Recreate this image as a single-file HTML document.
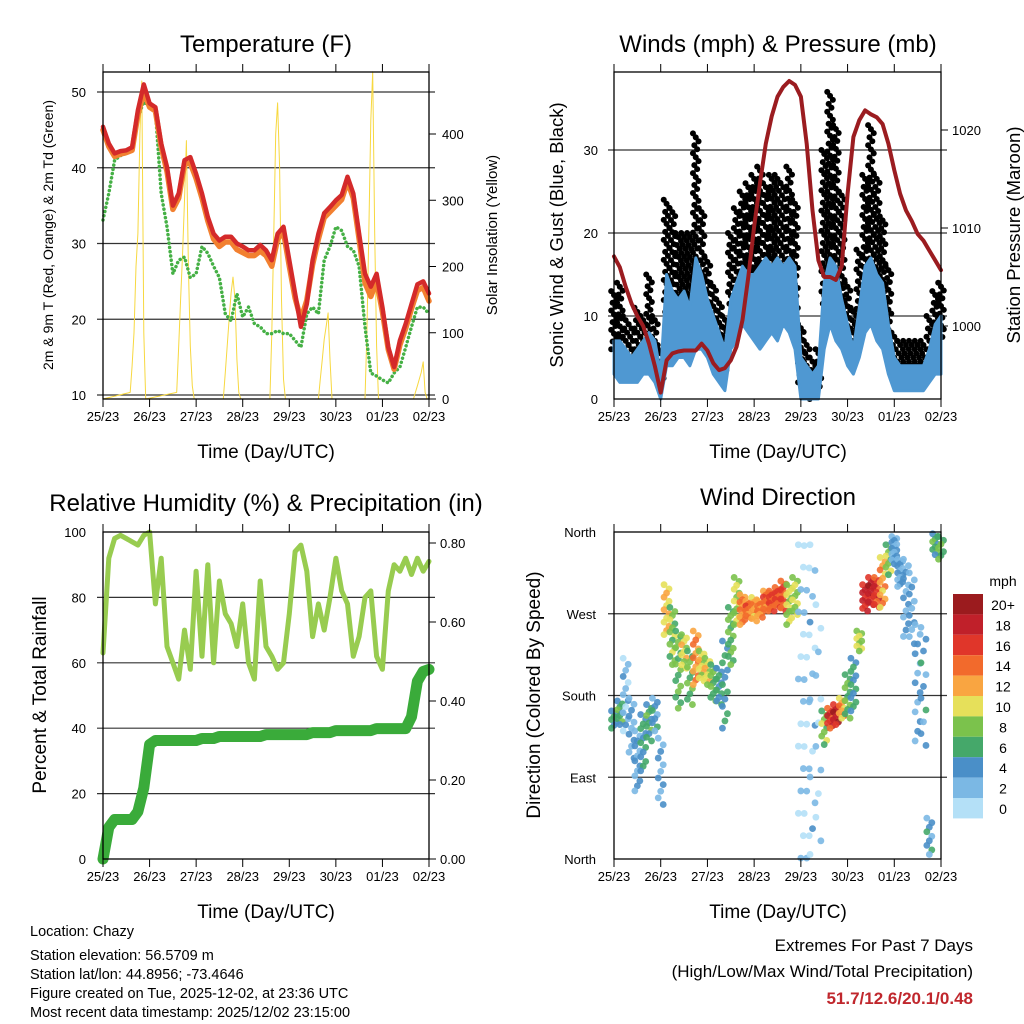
<!DOCTYPE html>
<html><head><meta charset="utf-8">
<style>
html,body{margin:0;padding:0;background:#fff;}
svg{display:block;font-family:"Liberation Sans",Arial,sans-serif;}
</style></head>
<body>
<svg id="chart" width="1024" height="1024" viewBox="0 0 1024 1024" xmlns="http://www.w3.org/2000/svg">
<rect width="1024" height="1024" fill="#fff"/>
<g id="g1"></g>
<g id="g2"></g>
<g id="g3"></g>
<g id="g4"></g>
<g font-size="24" text-anchor="middle" fill="#000">
<text x="266" y="52">Temperature (F)</text>
<text x="778" y="52">Winds (mph) &amp; Pressure (mb)</text>
<text x="266" y="511">Relative Humidity (%) &amp; Precipitation (in)</text>
<text x="778" y="505">Wind Direction</text>
</g>
<g font-size="19" text-anchor="middle">
<text x="266" y="458">Time (Day/UTC)</text>
<text x="778" y="458">Time (Day/UTC)</text>
<text x="266" y="918">Time (Day/UTC)</text>
<text x="778" y="918">Time (Day/UTC)</text>
</g>
<g text-anchor="middle">
<text font-size="14" transform="translate(53,235) rotate(-90)">2m &amp; 9m T (Red, Orange) &amp; 2m Td (Green)</text>
<text font-size="15" transform="translate(497,235) rotate(-90)">Solar Insolation (Yellow)</text>
<text font-size="18.5" transform="translate(563,235) rotate(-90)">Sonic Wind &amp; Gust (Blue, Black)</text>
<text font-size="18.5" transform="translate(1020,235) rotate(-90)">Station Pressure (Maroon)</text>
<text font-size="19" transform="translate(46,695) rotate(-90)">Percent &amp; Total Rainfall</text>
<text font-size="19" transform="translate(540,695) rotate(-90)">Direction (Colored By Speed)</text>
</g>
<g font-size="14.5">
<text x="30" y="936">Location: Chazy</text>
<text x="30" y="960">Station elevation: 56.5709 m</text>
<text x="30" y="979">Station lat/lon: 44.8956; -73.4646</text>
<text x="30" y="998">Figure created on Tue, 2025-12-02, at 23:36 UTC</text>
<text x="30" y="1017">Most recent data timestamp: 2025/12/02 23:15:00</text>
</g>
<g text-anchor="end">
<text x="973" y="951" font-size="17">Extremes For Past 7 Days</text>
<text x="973" y="977" font-size="17">(High/Low/Max Wind/Total Precipitation)</text>
<text x="973" y="1004" font-size="17" font-weight="bold" fill="#c0272d">51.7/12.6/20.1/0.48</text>
</g>
</svg>
<script>
// ---------- DATA (3-hourly, hour = index*3) ----------
const dayLabels = ["25/23","26/23","27/23","28/23","29/23","30/23","01/23","02/23"];
const temp2m = [45.4,43.2,41.9,42.2,42.3,42.7,47.6,51,48.5,48,43.2,40.1,35,36.6,41,41.4,39.2,36.6,33.5,31.3,30.4,30.9,30.9,30,29.6,29.1,29.1,29.8,29.1,27.8,31.3,32.2,27.8,23.4,19,22,27.8,31.3,34,34.8,35.7,36.4,38.8,36.6,31.3,26,24.3,26,21.6,16.3,13.7,17.2,19.4,22,24.6,25,23.4];
const temp9m = [45,42.8,41.5,41.8,42,42.3,47,50,48,47.5,42.8,39.5,34.5,36,40.5,40.6,38.6,36,33,30.6,29.6,30.2,30.2,29.2,28.8,28.4,28.4,29,28.4,27,30.6,31.5,27,22.8,20,22.5,27.2,30.6,33.4,34.2,35,35.8,38.2,36,30.6,24.8,23,25,21,16,13.4,16.6,18.8,21.4,23.8,24.2,22.4];
const dewpt = [33.1,36.6,41,41.6,41.9,42.3,46.7,48.7,48,47.6,36.6,32.2,26,27.8,28.2,25.5,26,29.6,28.7,27,25.5,20.7,19.8,23.4,20.3,21.6,19.4,19,18.1,18.1,18.5,18.1,18.1,17.2,16.3,20.7,21.6,20.7,27.8,29.6,32.2,31.7,29.6,29.1,27,19,12.9,12.5,12,11.6,12.9,13.7,16.3,19,21.6,21.6,20.7];
const solarHrs = [0,14,15,16,17,18,19,20,21,22,38,39,40,41,42,43,44,45,46,47,62,63,64,65,66,67,68,69,70,71,86,87,88,89,90,91,92,93,94,111,112,113,114,115,116,117,118,135,136,137,138,139,140,141,142,160,161,162,163,164,165,166,167,168];
const solarVals = [0,10,50,100,200,250,400,480,100,0,10,80,150,220,300,390,200,80,20,0,0,40,80,120,160,184,150,60,10,0,0,100,250,400,447,350,150,30,0,0,30,60,90,110,130,60,0,0,100,250,420,494,250,80,0,0,10,20,30,40,56,10,0,0];
const windLo = [3,2,2,2,2,3,3,2,0,4,4,5,5,4,6,6,5,3,2,1,6,7,9,8,7,6,7,8,7,9,8,6,0,0,0,0,6,9,7,6,4,3,5,8,9,7,6,3,1,1,1,1,1,1,2,3,3];
const windHi = [7,7,6,5,6,7,8,7,3,15,13,12,13,11,17,15,12,10,8,6,12,14,16,15,15,16,17,16,17,16,17,16,5,4,3,4,14,17,16,12,9,6,11,16,17,15,14,9,5,4,4,4,4,4,6,9,10];
const gustLo = [6,4,4,4,5,5,6,5,2,10,9,8,9,7,10,9,8,6,5,3,11,12,12,13,12,13,14,15,13,12,14,10,2,1,0,1,11,14,12,9,6,5,8,13,15,13,11,6,4,3,3,3,3,3,4,5,7];
const gustHi = [13,14,10,9,11,10,15,10,6,24,23,20,20,20,32,23,17,14,12,10,20,23,25,26,27,28,26,27,27,26,28,24,9,7,5,6,30,37,33,25,14,11,18,27,33,27,22,16,8,7,7,7,7,7,10,13,14];
const pressure = [1007.1,1006,1004,1002.3,1001,1000,998.2,995.9,993.2,996.5,997.2,997.4,997.5,997.5,997.5,998.2,997.5,996.2,995.5,995.7,996.5,997.9,1000.6,1005,1010.1,1014.6,1018.6,1021.4,1023.4,1024.4,1025,1024.6,1023.4,1018.6,1011.8,1006.7,1005,1005,1004.7,1006.1,1013.5,1019.3,1021,1022,1021.6,1021.3,1020.6,1018.6,1015.9,1013.5,1011.8,1010.7,1009.4,1008.7,1007.7,1006.7,1005.7];
const relHum = [63,92,98,99,98,97,96,99,100,78,92,65,60,55,70,58,88,62,90,60,85,75,72,65,78,60,55,85,65,62,58,60,75,94,96,88,68,78,70,80,92,82,78,62,68,80,82,62,58,82,90,88,92,87,92,88,91];
const precip = [0,0.08,0.1,0.1,0.1,0.1,0.12,0.18,0.29,0.3,0.3,0.3,0.3,0.3,0.3,0.3,0.3,0.305,0.305,0.305,0.31,0.31,0.31,0.31,0.31,0.31,0.31,0.31,0.315,0.315,0.315,0.315,0.315,0.315,0.315,0.315,0.32,0.32,0.32,0.32,0.325,0.325,0.325,0.325,0.325,0.325,0.325,0.33,0.33,0.33,0.33,0.33,0.33,0.36,0.45,0.475,0.48];
const dirLo = [144,148,141,111,75,97,130,141,60,247,214,166,210,170,192,196,192,174,170,144,214,258,258,266,262,266,273,273,277,273,258,269,1,1,5,20,126,144,148,155,155,163,229,273,280,277,277,313,325,300,245,237,130,125,5,335,330];
const dirHi = [163,174,221,177,141,159,170,177,133,302,277,251,247,229,251,229,221,214,210,240,277,310,291,284,288,284,295,295,299,306,302,310,346,345,346,280,163,166,170,177,203,221,251,302,310,310,332,346,355,330,330,315,258,255,45,358,355];
const dirSpd = [5,6,2,3,3,5,6,4,3,11,8,7,10,7,13,10,10,7,5,5,7,9,13,14,12,13,14,15,15,15,9,9,1,1,2,1,8,16,18,12,7,5,9,17,18,16,12,8,3,3,3,3,3,4,4,6,7];
const dirCount = [6,8,12,10,12,12,10,8,10,12,14,14,10,10,12,10,8,10,10,12,14,12,12,10,10,10,10,10,10,10,12,10,14,14,12,10,8,8,8,8,10,12,8,10,10,10,12,8,14,12,12,10,12,10,8,8,6];
const speedBins = ["0","2","4","6","8","10","12","14","16","18","20+"];
const speedColors = ["#b4e0f7","#7bb8e4","#4a8fc8","#45a86a","#7bc24c","#e6e05a","#f9a541","#f26a2c","#e0362a","#c0202a","#9b1b1e"];
const dirLabels = ["North","East","South","West","North"];

const NS="http://www.w3.org/2000/svg";
function mk(parent, tag, attrs){const e=document.createElementNS(NS,tag);for(const k in attrs)e.setAttribute(k,attrs[k]);parent.appendChild(e);return e;}
const hrs = temp2m.map((_,i)=>i*3);

const xL = h => 103 + h/168*326;
const xR = h => 614 + h/168*327;
const yT = v => 92 + (50-v)*7.575;
const yS = s => 399 - s*0.6625;
const yW = v => 399 - v*8.3;
const yP = p => 228 + (1010-p)*9.8;
const yRH = r => 859 - r*3.27;
const yPr = p => 859 - p*395;
const yD = d => 859 - d/360*327;

function frame(g, x0,x1,y0,y1, xs, name){
  dayLabels.forEach((lab,i)=>{
    const x = xs(i*24);
    const t1=mk(g,'line',{x1:x,x2:x,y1:y1,y2:y1+8,stroke:'#000','stroke-width':1});
    
    
    const t2=mk(g,'line',{x1:x,x2:x,y1:y0,y2:y0-8,stroke:'#000','stroke-width':1});
    
    
    const tx=mk(g,'text',{x:x,y:y1+22,'font-size':13,'text-anchor':'middle'});
    tx.textContent=lab;
    
    
  });
}
function hgrid(g,x0,x1,y,name){
  const l=mk(g,'line',{x1:x0-6,x2:x1+6,y1:y,y2:y,stroke:'#333','stroke-width':1.2});
  
  
}
function box(g,x0,x1,y0,y1,name){
  const r=mk(g,'rect',{x:x0,y:y0,width:x1-x0,height:y1-y0,fill:'none',stroke:'#000','stroke-width':1.3});
  
  
}
function label(g,x,y,txt,anchor,size,name){
  const t=mk(g,'text',{x:x,y:y,'font-size':size||13,'text-anchor':anchor});
  t.textContent=txt;
  
  
}
function poly(g,xs,ys,xv,yv,attrs,name){
  const pts = xv.map((h,i)=>xs(h).toFixed(1)+','+ys(yv[i]).toFixed(1)).join(' ');
  const p=mk(g,'polyline',Object.assign({points:pts,fill:'none','stroke-linejoin':'round','stroke-linecap':'round'},attrs));
  
  
  return p;
}

// ---------- Panel 1 ----------
const g1=document.getElementById('g1');
[50,40,30,20,10].forEach(v=>{hgrid(g1,103,429,yT(v),'temp-gridline');label(g1,86,yT(v)+5,String(v),'end',13,'temp-y-tick-label');});
[0,100,200,300,400].forEach(v=>{mk(g1,'line',{x1:429,x2:436,y1:yS(v),y2:yS(v),stroke:'#000'});label(g1,442,yS(v)+5,String(v),'start',13,'solar-y-tick-label');});
poly(g1,xL,yS,solarHrs,solarVals,{stroke:'#f7d840','stroke-width':1},'solar-line');
poly(g1,xL,yT,hrs,dewpt,{stroke:'#45b045','stroke-width':3.5,'stroke-dasharray':'0.1 4.2'},'dewpoint-line');
poly(g1,xL,yT,hrs,temp9m,{stroke:'#f28030','stroke-width':5.5},'temp-9m-line');
poly(g1,xL,yT,hrs,temp2m,{stroke:'#d42a2a','stroke-width':4.5},'temp-2m-line');
box(g1,103,429,72,399,'temp-plot-frame');
frame(g1,103,429,72,399,xL,'temp');

// ---------- Panel 2 ----------
const g2=document.getElementById('g2');
[0,10,20,30].forEach(v=>{if(v>0)hgrid(g2,614,941,yW(v),'wind-gridline');label(g2,598,yW(v)+5,String(v),'end',13,'wind-y-tick-label');});
[1000,1010,1020].forEach(v=>{mk(g2,'line',{x1:941,x2:948,y1:yP(v),y2:yP(v),stroke:'#000'});label(g2,952,yP(v)+5,String(v),'start',13,'pressure-y-tick-label');});
hrs.forEach((h,i)=>{
  const top=yW(gustHi[i]), bot=yW(gustLo[i]);
  const n=Math.max(1,Math.round((bot-top)/4));
  for(let k=0;k<=n;k++){
    const c=mk(g2,'circle',{cx:xR(h)+((k*7)%5-2)*1.4,cy:top+(bot-top)*k/n,r:3,fill:'#000'});
    
    
  }
});
{
  const up = hrs.map((h,i)=>xR(h).toFixed(1)+','+yW(windHi[i]).toFixed(1));
  const dn = hrs.map((h,i)=>xR(h).toFixed(1)+','+yW(windLo[i]).toFixed(1)).reverse();
  const p=mk(g2,'polygon',{points:up.concat(dn).join(' '),fill:'#4f98d2',stroke:'#4f98d2','stroke-width':3,'stroke-linejoin':'round'});
  
  
}
poly(g2,xR,yP,hrs,pressure,{stroke:'#9b1c20','stroke-width':4},'pressure-line');
box(g2,614,941,72,399,'winds-plot-frame');
frame(g2,614,941,72,399,xR,'winds');

// ---------- Panel 3 ----------
const g3=document.getElementById('g3');
[0,20,40,60,80,100].forEach(v=>{if(v>0&&v<100)hgrid(g3,103,429,yRH(v),'rh-gridline');label(g3,86,yRH(v)+5,String(v),'end',13,'rh-y-tick-label');});
[0,0.2,0.4,0.6,0.8].forEach(v=>{mk(g3,'line',{x1:429,x2:436,y1:yPr(v),y2:yPr(v),stroke:'#000'});label(g3,440,yPr(v)+5,v.toFixed(2),'start',13,'precip-y-tick-label');});
poly(g3,xL,yRH,hrs,relHum,{stroke:'#98cc50','stroke-width':5},'rh-line');
poly(g3,xL,yPr,hrs,precip,{stroke:'#3aab3a','stroke-width':11},'precip-line');
box(g3,103,429,532,859,'rh-plot-frame');
frame(g3,103,429,532,859,xL,'rh');

// ---------- Panel 4 ----------
const g4=document.getElementById('g4');
dirLabels.forEach((lab,i)=>{const d=i*90;if(i>0&&i<4)hgrid(g4,614,941,yD(d),'direction-gridline');label(g4,596,yD(d)+5,lab,'end',13,'direction-y-tick-label');});
function spdColor(s){let k=Math.min(10,Math.max(0,Math.round(s/2)));return speedColors[k];}
hrs.forEach((h,i)=>{
  const lo=dirLo[i], hi=dirHi[i];
  const span=Math.max(0,yD(lo)-yD(hi));
  const n=dirCount[i];
  for(let k=0;k<=n;k++){
    const y=yD(hi)+span*k/n;
    const dx=((k*5)%3-1)*2.5;
    const c=mk(g4,'circle',{cx:xR(h)+dx,cy:y,r:3.4,fill:spdColor(dirSpd[i]+((k%4)-1.5)),opacity:0.9});
    
    
  }
});
box(g4,614,941,532,859,'direction-plot-frame');
frame(g4,614,941,532,859,xR,'direction');
label(g4,1003,586,'mph','middle',14,'colorbar-title');
speedBins.forEach((b,i)=>{
  const k=speedBins.length-1-i;
  const y=594+i*20.4;
  const r=mk(g4,'rect',{x:953,y:y,width:30,height:20.4,fill:speedColors[k]});
  
  
  label(g4,1003,y+16,speedBins[k],'middle',14,'colorbar-label');
});
</script>
</body></html>
